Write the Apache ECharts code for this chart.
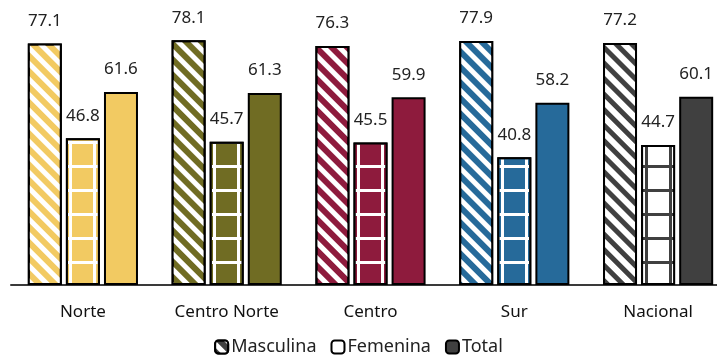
<!DOCTYPE html>
<html>
<head>
<meta charset="utf-8">
<script src="https://cdn.jsdelivr.net/npm/echarts@6/dist/echarts.min.js"></script>
<style>
  html, body { margin: 0; padding: 0; background: #fff; }
  #chart { width: 717px; height: 358px; }
</style>
</head>
<body>
<div id="chart"></div>
<script>
// regions and the three series (participation rate by sex)
const categories = ["Norte", "Centro Norte", "Centro", "Sur", "Nacional"];
const masculina = [77.1, 78.1, 76.3, 77.9, 77.2];
const femenina = [46.8, 45.7, 45.5, 40.8, 44.7];
const total = [61.6, 61.3, 59.9, 58.2, 60.1];

// one colour per region; Nacional is drawn in grey/white
const groupColors = ["#F2CA62", "#706C23", "#8E1B3D", "#266A9A", "#404040"];
const DARK = "#404040";

const FONT = '"Noto Sans", "Open Sans", sans-serif';

// diagonal stripe pattern (masculina)
const stripeDecal = (color) => ({
	symbol: "rect",
	symbolSize: 1,
	color: color,
	dashArrayX: [1, 0],
	dashArrayY: [5, 6],
	rotation: Math.PI / 4,
});

// grid pattern (femenina): fill = line colour, decal squares = cell colour
const gridDecal = (color) => ({
	symbol: "rect",
	symbolSize: 1,
	color: color,
	dashArrayX: [21, 3],
	dashArrayY: [21, 3],
	rotation: 0,
});

const border = { borderColor: "#000", borderWidth: 2 };

const masculinaData = masculina.map((v, i) => {
	const isNat = i === groupColors.length - 1;
	return {
		value: v,
		itemStyle: {
			...border,
			color: isNat ? "#fff" : groupColors[i],
			decal: stripeDecal(isNat ? DARK : "#fff"),
		},
	};
});

const femeninaData = femenina.map((v, i) => {
	const isNat = i === groupColors.length - 1;
	return {
		value: v,
		itemStyle: {
			...border,
			color: isNat ? DARK : "#fff",
			decal: gridDecal(isNat ? "#fff" : groupColors[i]),
		},
	};
});

const totalData = total.map((v, i) => ({
	value: v,
	itemStyle: { ...border, color: groupColors[i] },
}));

const label = {
	show: true,
	position: "top",
	distance: 14,
	fontFamily: FONT,
	fontSize: 17,
	color: "#222",
	formatter: (p) => p.value.toFixed(1),
};

const chart = echarts.init(document.getElementById("chart"), null, { renderer: "canvas" });

chart.setOption({
	animation: false,
	// legend at the bottom, dark icons
	legend: {
		bottom: -3,
		left: "center",
		itemWidth: 13,
		itemHeight: 13,
		itemGap: 14,
		textStyle: { fontFamily: FONT, fontSize: 18, color: "#222", padding: [0, 0, 0, -2] },
		data: ["Masculina", "Femenina", "Total"],
	},
	// plot area runs a little past the right edge, like the original
	grid: { top: 3, bottom: 73, left: 11, width: 719, outerBoundsMode: "none" },
	xAxis: {
		type: "category",
		data: categories,
		axisTick: { show: false },
		axisLine: { lineStyle: { color: "#3a3a3a", width: 2 } },
		axisLabel: { fontFamily: FONT, fontSize: 17, color: "#111", margin: 19 },
	},
	yAxis: {
		type: "value",
		min: 0,
		max: 90,
		show: false,
		splitLine: { show: false },
	},
	series: [
		{
			name: "Masculina",
			type: "bar",
			barWidth: 34,
			barGap: "12%",
			data: masculinaData,
			label: label,
			itemStyle: { ...border, borderWidth: 1.5, color: DARK, decal: stripeDecal("#fff") },
		},
		{
			name: "Femenina",
			type: "bar",
			barWidth: 34,
			barGap: "12%",
			data: femeninaData,
			label: label,
			itemStyle: { ...border, borderWidth: 1.5, color: "#fff" },
		},
		{
			name: "Total",
			type: "bar",
			barWidth: 34,
			barGap: "12%",
			data: totalData,
			label: label,
			itemStyle: { ...border, borderWidth: 1.5, color: DARK },
		},
	],
});
</script>
</body>
</html>
